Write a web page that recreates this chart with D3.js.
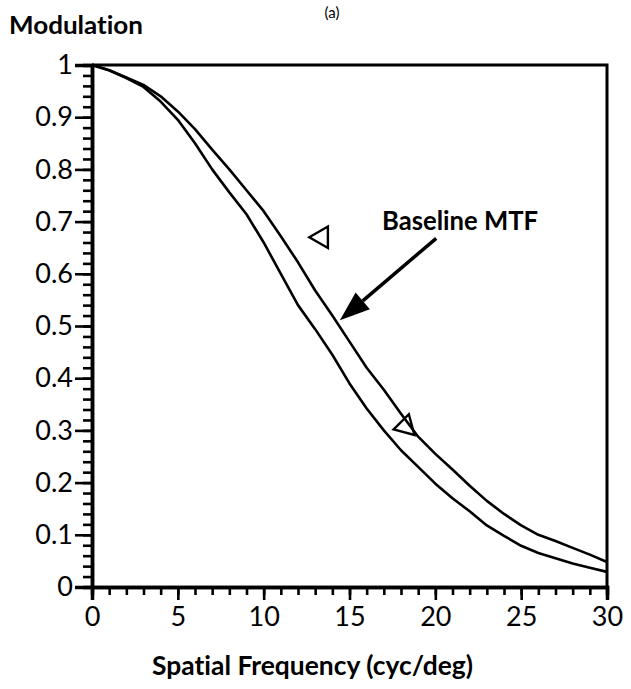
<!DOCTYPE html>
<html>
<head>
<meta charset="utf-8">
<script src="https://cdn.jsdelivr.net/npm/d3@7"></script>
<style>
  body { margin: 0; background: #fff; }
  svg text { font-variant-ligatures: none; font-feature-settings: "liga" 0, "clig" 0; }
  .curve { fill: none; stroke: #000; stroke-width: 2.6; stroke-linejoin: round; }
  .axis path, .axis line { stroke: #000; }
  .axis path { stroke-width: 3.5; }
  .axis line { stroke-width: 2.6; }
  .axis text { font-family: Lato, sans-serif; font-size: 27px; fill: #000; }
  .frame { fill: none; stroke: #000; stroke-width: 3; }
  .title { font-family: Lato, sans-serif; font-weight: bold; fill: #000; }
  .panel { font-family: Lato, sans-serif; font-size: 15px; fill: #000; }
</style>
</head>
<body>
<svg id="MTF"></svg>
<script>
// values
var freq = [0, 1, 2, 3, 4, 5, 6, 7, 8, 9, 10, 11, 12, 13, 14, 15,
            16, 17, 18, 19, 20, 21, 22, 23, 24, 25, 26, 27, 28, 29, 30];
var baselineMTF = [1.0, 0.99, 0.976, 0.962, 0.94, 0.911, 0.877, 0.838, 0.8, 0.76, 0.72,
                   0.672, 0.622, 0.568, 0.52, 0.47, 0.42, 0.378, 0.332, 0.288, 0.255,
                   0.225, 0.194, 0.165, 0.14, 0.118, 0.1, 0.088, 0.075, 0.062, 0.048];
var otherMTF = [1.0, 0.99, 0.975, 0.958, 0.93, 0.895, 0.85, 0.80, 0.756, 0.714, 0.66,
                0.6, 0.54, 0.494, 0.445, 0.39, 0.342, 0.3, 0.262, 0.23, 0.198,
                0.17, 0.145, 0.118, 0.098, 0.079, 0.065, 0.055, 0.045, 0.037, 0.029];
var markers = [{"x": 13.38, "y": 0.670}, {"x": 18.27, "y": 0.308}];
var xTicks = [0, 5, 10, 15, 20, 25, 30];
var yTicks = [0, 0.1, 0.2, 0.3, 0.4, 0.5, 0.6, 0.7, 0.8, 0.9, 1];
var arrow = {"from": {"x": 20.05, "y": 0.668}, "to": {"x": 14.44, "y": 0.511}};
var note = {"x": 16.9, "y": 0.684, "text": "Baseline MTF"};

var W = 631, H = 689;
var margin = {top: 65, right: 24, bottom: 102, left: 92};
var markerTilt = [-90, -105];

var svg = d3.select("#MTF")
  .attr("width", W)
  .attr("height", H);

var xScale = d3.scaleLinear().domain([0, 30]).range([margin.left, W - margin.right]);
var yScale = d3.scaleLinear().domain([0, 1]).range([H - margin.bottom, margin.top]);

// frame (top + right)
svg.append("path")
  .attr("class", "frame")
  .attr("d", `M${xScale(0)},${yScale(1)}H${xScale(30)}V${yScale(0)}`);

// minor ticks first, major on top
svg.append("g")
  .attr("class", "axis")
  .attr("transform", `translate(${margin.left},0)`)
  .call(d3.axisLeft(yScale).tickValues(d3.range(0, 1.001, 0.02)).tickSize(9).tickFormat(""));

svg.append("g")
  .attr("class", "axis")
  .attr("transform", `translate(0,${H - margin.bottom})`)
  .call(d3.axisBottom(xScale).tickValues(freq).tickSize(8).tickFormat(""));

svg.append("g")
  .attr("class", "axis")
  .attr("transform", `translate(${margin.left},0)`)
  .call(d3.axisLeft(yScale).tickValues(yTicks).tickSize(17).tickPadding(2)
    .tickFormat(function(d) { return (d === 0 || d === 1) ? d3.format("d")(d) : d3.format(".1f")(d); }));

svg.append("g")
  .attr("class", "axis")
  .attr("transform", `translate(0,${H - margin.bottom})`)
  .call(d3.axisBottom(xScale).tickValues(xTicks).tickSize(13).tickPadding(7));

var line = d3.line()
  .x(function(d, i) { return xScale(freq[i]); })
  .y(function(d) { return yScale(d); });

svg.append("path").attr("class", "curve").attr("d", line(otherMTF));
svg.append("path").attr("class", "curve").attr("d", line(baselineMTF));

// open triangle markers
svg.selectAll(".marker")
  .data(markers)
  .enter().append("path")
  .attr("class", "marker")
  .attr("d", d3.symbol().type(d3.symbolTriangle).size(200))
  .attr("transform", function(d, i) { return `translate(${xScale(d.x)},${yScale(d.y)}) rotate(${markerTilt[i]})`; })
  .attr("fill", "none")
  .attr("stroke", "#000")
  .attr("stroke-width", 2.4);

// annotation arrow
var ax0 = xScale(arrow.from.x), ay0 = yScale(arrow.from.y),
    ax1 = xScale(arrow.to.x), ay1 = yScale(arrow.to.y);
var ang = Math.atan2(ay1 - ay0, ax1 - ax0);
var headLen = 30, headHalf = 11;
var bx = ax1 - headLen * Math.cos(ang), by = ay1 - headLen * Math.sin(ang);

svg.append("line")
  .attr("x1", ax0).attr("y1", ay0)
  .attr("x2", bx).attr("y2", by)
  .attr("stroke", "#000")
  .attr("stroke-width", 3.5);

svg.append("path")
  .attr("d", `M${ax1},${ay1}L${bx - headHalf * Math.sin(ang)},${by + headHalf * Math.cos(ang)}L${bx + headHalf * Math.sin(ang)},${by - headHalf * Math.cos(ang)}Z`)
  .attr("fill", "#000");

svg.append("text")
  .attr("class", "title")
  .attr("x", xScale(note.x))
  .attr("y", yScale(note.y))
  .attr("font-size", 26)
  .attr("textLength", 156)
  .attr("lengthAdjust", "spacingAndGlyphs")
  .text(note.text);

// titles
svg.append("text")
  .attr("class", "title")
  .attr("x", 9)
  .attr("y", 34)
  .attr("font-size", 25)
  .attr("textLength", 134)
  .attr("lengthAdjust", "spacingAndGlyphs")
  .text("Modulation");

svg.append("text")
  .attr("class", "title")
  .attr("x", 152)
  .attr("y", 675)
  .attr("font-size", 27)
  .attr("textLength", 321)
  .attr("lengthAdjust", "spacingAndGlyphs")
  .text("Spatial Frequency (cyc/deg)");

// panel label (only its lower edge shows in the scan)
svg.append("text")
  .attr("class", "panel")
  .attr("x", 332)
  .attr("y", 18)
  .attr("text-anchor", "middle")
  .text("(a)");
</script>
</body>
</html>
